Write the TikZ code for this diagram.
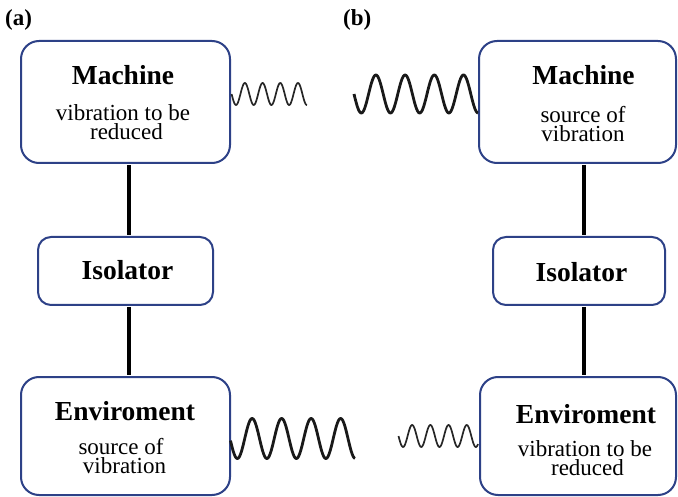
\documentclass[tikz,border=0pt]{standalone}
\usepackage{fontspec}
\setmainfont{Liberation Serif}
\definecolor{boxblue}{RGB}{45,65,135}
\begin{document}
\begin{tikzpicture}[x=1pt,y=-1pt,
  box/.style={draw=boxblue, line width=2pt, rounded corners=18pt, fill=white, inner sep=0pt},
  isobox/.style={box, rounded corners=13pt},
  title/.style={anchor=base, inner sep=0pt, font=\fontsize{27.5}{29}\selectfont\bfseries},
  body/.style={anchor=base, inner sep=0pt, align=center, font=\fontsize{23}{18.5}\selectfont},
  panel/.style={anchor=base west, inner sep=0pt, font=\fontsize{23}{25}\selectfont\bfseries},
  conn/.style={line width=4.2pt, black, shorten >=1pt, shorten <=1pt},
  smallwave/.style={line width=1.7pt, black!85, line join=round},
  bigwave/.style={line width=2.8pt, black!90, line join=round}]
\useasboundingbox (0,0) rectangle (678,497);

% panel labels
\node[panel] (la) at (5,26) {(a)};
\node[panel] (lb) at (343,26) {(b)};

% ---- panel (a) ----
\node[box, minimum width=209pt, minimum height=122pt] (mA) at (125.5,102) {};
\node[isobox, minimum width=175pt, minimum height=68pt] (iA) at (125.5,271) {};
\node[box, minimum width=209pt, minimum height=118pt] (eA) at (125.5,436) {};

\node[title] (mAt) at (123,85) {Machine};
\node[body] (mAb) at (123,139.5) {vibration to be\\\hspace*{7pt}reduced};
\node[title] (iAt) at (127.5,280) {Isolator};
\node[title] (eAt) at (125,420) {Enviroment};
\node[body] (eAb) at (121,473) {source of\\\hspace*{7pt}vibration};

\coordinate (ax) at (129,0);
\draw[conn] (mA.south -| ax) -- (iA.north -| ax);
\draw[conn] (iA.south -| ax) -- (eA.north -| ax);

\draw[smallwave] plot[domain=231.6:307, samples=160, smooth] (\x, {94+11*sin((\x-231.6)*20.339)});
\draw[bigwave] plot[domain=230.5:355, samples=200, smooth] (\x, {438.5+20*sin((\x-230)*12.2034)});

% ---- panel (b) ----
\node[box, minimum width=197pt, minimum height=122pt] (mB) at (577.5,102) {};
\node[isobox, minimum width=172pt, minimum height=68pt] (iB) at (579,271) {};
\node[box, minimum width=196pt, minimum height=118pt] (eB) at (578,436) {};

\node[title] (mBt) at (583.5,85) {Machine};
\node[body] (mBb) at (583,141.5) {source of\\vibration};
\node[title] (iBt) at (581.5,281.5) {Isolator};
\node[title] (eBt) at (586,423) {Enviroment};
\node[body] (eBb) at (585,475) {vibration to be\\\hspace*{5pt}reduced};

\coordinate (bx) at (584,0);
\draw[conn] (mB.south -| bx) -- (iB.north -| bx);
\draw[conn] (iB.south -| bx) -- (eB.north -| bx);

\draw[bigwave] plot[domain=354:478, samples=200, smooth] (\x, {94+19*sin((\x-354)*12.3288)});
\draw[smallwave] plot[domain=398.5:478, samples=160, smooth] (\x, {436+11*sin((\x-398.5)*19.7802)});
\end{tikzpicture}
\end{document}
